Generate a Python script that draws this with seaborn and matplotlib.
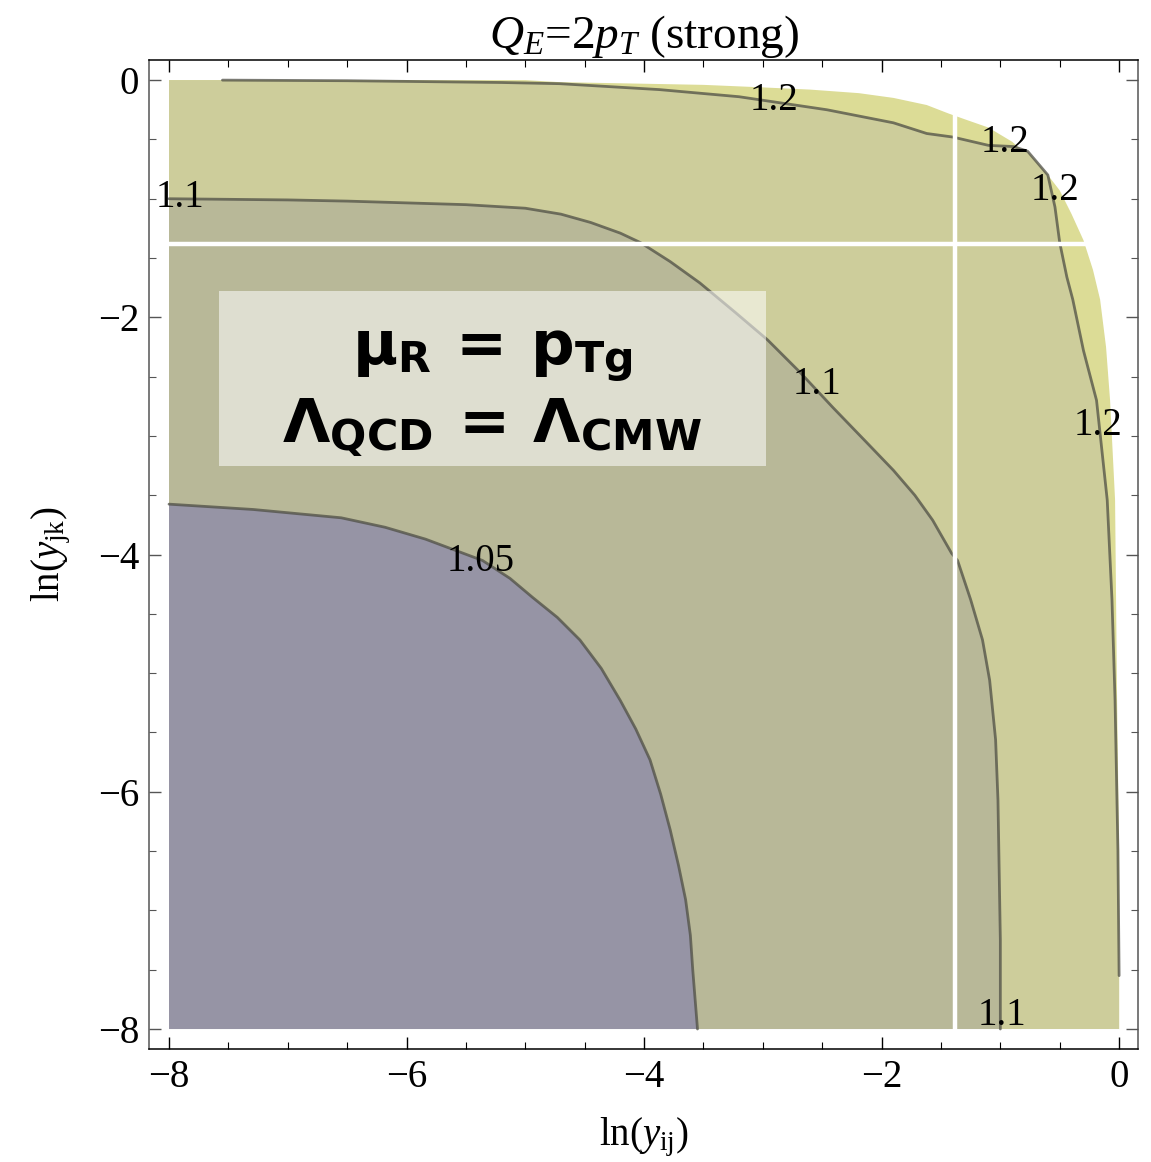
import numpy as np
import matplotlib
matplotlib.use("Agg")
import matplotlib.pyplot as plt
from matplotlib.patches import Rectangle
from matplotlib.ticker import MultipleLocator
import seaborn as sns

# --- contour data (ln y_ij, ln y_jk) ---
edge_x = [-8.0, -5.0, -4.71, -3.5, -3.03, -2.6, -2.19, -1.9, -1.62, -1.44, -1.3,
          -1.10, -0.9, -0.73, -0.6, -0.50, -0.4, -0.30, -0.22, -0.16, -0.11,
          -0.076, -0.034, -0.017, 0.0, 0.0]
edge_y = [0.0, 0.0, -0.017, -0.04, -0.06, -0.08, -0.11, -0.15, -0.21, -0.28, -0.33,
          -0.40, -0.52, -0.67, -0.8, -0.93, -1.13, -1.35, -1.6, -1.85, -2.25,
          -2.70, -3.54, -5.23, -6.5, -8.0]

c12_x = [-7.55, -6.5, -5.2, -4.71, -3.87, -3.20, -2.46, -1.90, -1.62, -1.40,
         -1.10, -0.89, -0.77, -0.60, -0.54, -0.50, -0.44, -0.39, -0.30, -0.19,
         -0.10, -0.06, -0.034, -0.01, 0.0]
c12_y = [0.0, -0.005, -0.02, -0.03, -0.08, -0.14, -0.25, -0.36, -0.45, -0.48,
         -0.55, -0.56, -0.60, -0.80, -1.07, -1.37, -1.66, -1.85, -2.28, -2.70,
         -3.54, -4.38, -5.23, -6.49, -7.55]

c11_x = [-8.0, -7.0, -6.5, -5.5, -5.0, -4.7, -4.45, -4.2, -4.03, -3.78, -3.53,
         -3.23, -2.96, -2.69, -2.41, -2.14, -1.90, -1.72, -1.57, -1.41, -1.36,
         -1.25, -1.15, -1.09, -1.04, -1.02, -1.0, -1.0]
c11_y = [-1.0, -1.01, -1.02, -1.05, -1.08, -1.13, -1.20, -1.29, -1.37, -1.53, -1.71,
         -1.96, -2.19, -2.46, -2.76, -3.04, -3.29, -3.50, -3.71, -3.99, -4.05,
         -4.38, -4.72, -5.06, -5.56, -6.07, -7.25, -8.0]

c105_x = [-8.0, -7.29, -6.55, -6.18, -5.84, -5.36, -5.13, -4.94, -4.73, -4.54,
          -4.36, -4.20, -4.07, -3.95, -3.86, -3.78, -3.71, -3.65, -3.61, -3.59,
          -3.55]
c105_y = [-3.575, -3.62, -3.69, -3.77, -3.87, -4.05, -4.20, -4.36, -4.53, -4.72,
          -4.96, -5.23, -5.47, -5.73, -6.02, -6.32, -6.62, -6.91, -7.21, -7.50,
          -8.0]

gap = -1.385  # white seams in x and y

labels_txt = ["1.2", "1.2", "1.2", "1.2", "1.1", "1.1", "1.1", "1.05"]
labels_x = [-2.91, -0.96, -0.54, -0.18, -7.91, -2.54, -0.99, -5.38]
labels_y = [-0.17, -0.53, -0.93, -2.91, -0.99, -2.57, -7.89, -4.06]

col_hi = "#dcdc96"     # > 1.2
col_12 = "#cdcd9b"     # 1.1 - 1.2
col_11 = "#b8b898"     # 1.05 - 1.1
col_105 = "#9694a5"    # < 1.05
line_col = "#4f4f45"

# --- style ---
sns.set_theme(style="ticks")
plt.rcParams['font.family'] = ['Liberation Serif', 'DejaVu Serif']
plt.rcParams['mathtext.fontset'] = 'custom'
plt.rcParams['mathtext.rm'] = 'Liberation Serif'
plt.rcParams['mathtext.it'] = 'Liberation Serif:italic'
plt.rcParams['mathtext.bf'] = 'DejaVu Sans:bold'
plt.rcParams['text.color'] = 'black'
plt.rcParams['axes.labelcolor'] = 'black'
plt.rcParams['axes.titlecolor'] = 'black'

fig = plt.figure(figsize=(11.51, 11.62), dpi=100)
ax = fig.add_axes([0.1295, 0.0972, 0.8593, 0.8511])

# filled bands
ax.fill([-8.0] + edge_x, [-8.0] + edge_y, color=col_hi, lw=0, zorder=1)
ax.fill([-8.0, -8.0] + c12_x + [0.0], [-8.0, 0.0] + c12_y + [-8.0], color=col_12, lw=0, zorder=2)
ax.fill([-8.0] + c11_x, [-8.0] + c11_y, color=col_11, lw=0, zorder=3)
ax.fill([-8.0] + c105_x, [-8.0] + c105_y, color=col_105, lw=0, zorder=4)

# contour lines
for cx, cy in [(c12_x, c12_y), (c11_x, c11_y), (c105_x, c105_y)]:
    sns.lineplot(x=cx, y=cy, sort=False, estimator=None, ax=ax,
                 color=line_col, lw=2.0, alpha=0.75, zorder=5)

# white seams
ax.plot([-8.05, 0.05], [gap, gap], color="white", lw=3.2, zorder=6, solid_capstyle="butt")
ax.plot([gap, gap], [-8.05, 0.05], color="white", lw=3.2, zorder=6, solid_capstyle="butt")

# contour labels
for t, lx, ly in zip(labels_txt, labels_x, labels_y):
    ax.text(lx, ly, t, fontsize=28, ha="center", va="center", color="black", zorder=8)

# annotation box
ax.add_patch(Rectangle((-7.58, -3.25), 4.61, 1.47, facecolor="white", alpha=0.55,
                       edgecolor="none", zorder=7))
ax.text(-5.28, -2.395, r'$\mathbf{μ}_{\mathbf{R}}\ \mathbf{=}\ \mathbf{p}_{\mathbf{Tg}}$',
        fontsize=44, ha="center", va="baseline", color="black", zorder=8)
ax.text(-5.28, -3.06, r'$\mathbf{Λ}_{\mathbf{QCD}}\ \mathbf{=}\ \mathbf{Λ}_{\mathbf{CMW}}$',
        fontsize=44, ha="center", va="baseline", color="black", zorder=8)

# axes
ax.set_xlim(-8.168, 0.16)
ax.set_ylim(-8.169, 0.169)
ax.xaxis.set_major_locator(MultipleLocator(2))
ax.yaxis.set_major_locator(MultipleLocator(2))
ax.xaxis.set_minor_locator(MultipleLocator(0.5))
ax.yaxis.set_minor_locator(MultipleLocator(0.5))
ax.tick_params(which="both", direction="in", top=True, right=True, labelsize=28, pad=7)
ax.tick_params(which="major", length=8.5, width=1.0)
ax.tick_params(which="minor", length=5, width=0.8)
ax.tick_params(axis="y", which="both", colors="#555555", labelcolor="black")
ax.tick_params(axis="x", which="both", colors="black", labelcolor="black")
for s in ["left", "right"]:
    ax.spines[s].set_color("#555555")
for s in ["top", "bottom"]:
    ax.spines[s].set_color("black")
for s in ax.spines.values():
    s.set_linewidth(1.1)

ax.set_title(r'$Q_E$=2$p_T$ (strong)', fontsize=34, pad=2)
ax.set_xlabel(r'ln($y_{\rm ij}$)', fontsize=28, labelpad=14)
ax.set_ylabel(r'ln($y_{\rm jk}$)', fontsize=28, labelpad=18)

fig.savefig("out.png", dpi=100)
